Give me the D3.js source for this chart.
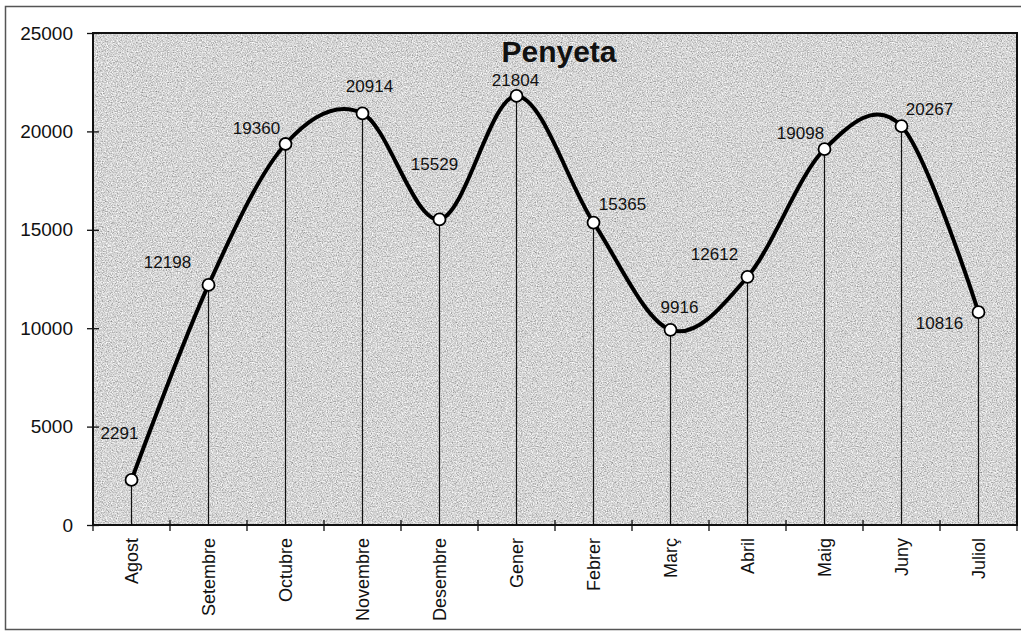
<!DOCTYPE html>
<html>
<head>
<meta charset="utf-8">
<script src="https://cdn.jsdelivr.net/npm/d3@7"></script>
<style>
  body { margin: 0; background: #fff; }
  svg { display: block; font-family: "Liberation Sans", Arial, sans-serif; }
</style>
</head>
<body>
<svg id="chart"></svg>
<script>
// data
let months = ['Agost', 'Setembre', 'Octubre', 'Novembre', 'Desembre', 'Gener',
              'Febrer', 'Març', 'Abril', 'Maig', 'Juny', 'Juliol']
let values = [2291, 12198, 19360, 20914, 15529, 21804, 15365, 9916, 12612, 19098, 20267, 10816]
let yTicks = [0, 5000, 10000, 15000, 20000, 25000]
let title = 'Penyeta'

// where each value label sits relative to its point (px)
let labelNudge = [[-12, -47], [-41, -23], [-29, -16], [7, -27], [-5, -55], [-1, -16],
                  [29, -19], [9, -23], [-33, -23], [-24, -16], [28, -17], [-39, 11]]

let w = 1021
let h = 635
let plotLeft = 93, plotRight = 1017, plotTop = 33, plotBottom = 525

let svg = d3.select('#chart').attr('width', w).attr('height', h)

let xScale = d3.scaleBand().domain(months).range([plotLeft, plotRight])
let yScale = d3.scaleLinear().domain([0, 25000]).range([plotBottom, plotTop])
let cx = (m) => xScale(m) + xScale.bandwidth() / 2

// grainy grey fill of the plot area
let defs = svg.append('defs')
let grain = defs.append('filter').attr('id', 'grain')
   .attr('x', 0).attr('y', 0).attr('width', '100%').attr('height', '100%')
grain.append('feTurbulence')
   .attr('type', 'fractalNoise')
   .attr('baseFrequency', 0.8)
   .attr('numOctaves', 2)
   .attr('seed', 7)
grain.append('feColorMatrix')
   .attr('type', 'matrix')
   .attr('values', '1.1 0 0 0 0.11  1.1 0 0 0 0.11  1.1 0 0 0 0.11  0 0 0 0 1')

// outer frame
svg.append('rect')
   .attr('x', 5.5).attr('y', 6.5)
   .attr('width', w).attr('height', 623)
   .attr('fill', 'none')
   .attr('stroke', '#555')
   .attr('stroke-width', 1.5)

svg.append('rect')
   .attr('x', plotLeft).attr('y', plotTop)
   .attr('width', plotRight - plotLeft).attr('height', plotBottom - plotTop)
   .attr('fill', '#b0b0b0')
   .attr('filter', 'url(#grain)')

// drop lines
svg.selectAll('.drop')
   .data(months)
   .enter()
   .append('line')
   .attr('class', 'drop')
   .attr('x1', (m) => cx(m))
   .attr('x2', (m) => cx(m))
   .attr('y1', (m, i) => yScale(values[i]))
   .attr('y2', yScale(0))
   .attr('stroke', '#111')
   .attr('stroke-width', 1.2)

// plot border
svg.append('rect')
   .attr('x', plotLeft).attr('y', plotTop)
   .attr('width', plotRight - plotLeft).attr('height', plotBottom - plotTop)
   .attr('fill', 'none')
   .attr('stroke', '#111')
   .attr('stroke-width', 2)

// y axis
let yAxis = d3.axisLeft(yScale).tickValues(yTicks).tickFormat(d3.format('d')).tickSize(6).tickPadding(14)
let yG = svg.append('g')
   .attr('transform', 'translate(' + plotLeft + ',0)')
   .call(yAxis)
yG.select('.domain').remove()
yG.selectAll('.tick line').attr('x1', -6).attr('x2', 6).attr('stroke', '#111').attr('stroke-width', 1.3)
yG.selectAll('.tick text')
   .attr('font-size', 19)
   .attr('font-family', '"Liberation Sans", Arial, sans-serif')
   .attr('fill', '#111')

// x axis: ticks sit between categories
let boundaries = months.map((m) => xScale(m)).concat([plotRight])
svg.selectAll('.xtick')
   .data(boundaries)
   .enter()
   .append('line')
   .attr('class', 'xtick')
   .attr('x1', (d) => d).attr('x2', (d) => d)
   .attr('y1', plotBottom - 5).attr('y2', plotBottom + 6)
   .attr('stroke', '#111')
   .attr('stroke-width', 1.3)

svg.selectAll('.xlabel')
   .data(months)
   .enter()
   .append('text')
   .attr('class', 'xlabel')
   .attr('transform', (m) => 'translate(' + cx(m) + ',' + (plotBottom + 13) + ') rotate(-90)')
   .attr('text-anchor', 'end')
   .attr('dy', '0.35em')
   .attr('font-size', 18)
   .attr('fill', '#111')
   .text((m) => m)

// smoothed line
let line = d3.line()
   .x((d, i) => cx(months[i]))
   .y((d) => yScale(d))
   .curve(d3.curveCatmullRom.alpha(0))

svg.append('path')
   .datum(values)
   .attr('d', line)
   .attr('fill', 'none')
   .attr('stroke', '#000')
   .attr('stroke-width', 4)
   .attr('stroke-linejoin', 'round')

svg.selectAll('.dot')
   .data(values)
   .enter()
   .append('circle')
   .attr('class', 'dot')
   .attr('cx', (d, i) => cx(months[i]))
   .attr('cy', (d) => yScale(d))
   .attr('r', 6)
   .attr('fill', '#fff')
   .attr('stroke', '#000')
   .attr('stroke-width', 1.8)

svg.selectAll('.vlabel')
   .data(values)
   .enter()
   .append('text')
   .attr('class', 'vlabel')
   .attr('x', (d, i) => cx(months[i]) + labelNudge[i][0])
   .attr('y', (d, i) => yScale(d) + labelNudge[i][1])
   .attr('dy', '0.35em')
   .attr('text-anchor', 'middle')
   .attr('font-size', 17)
   .attr('fill', '#111')
   .text((d) => d)

svg.append('text')
   .attr('x', 559)
   .attr('y', 62)
   .attr('text-anchor', 'middle')
   .attr('font-size', 30)
   .attr('font-weight', 'bold')
   .attr('fill', '#111')
   .text(title)
</script>
</body>
</html>
